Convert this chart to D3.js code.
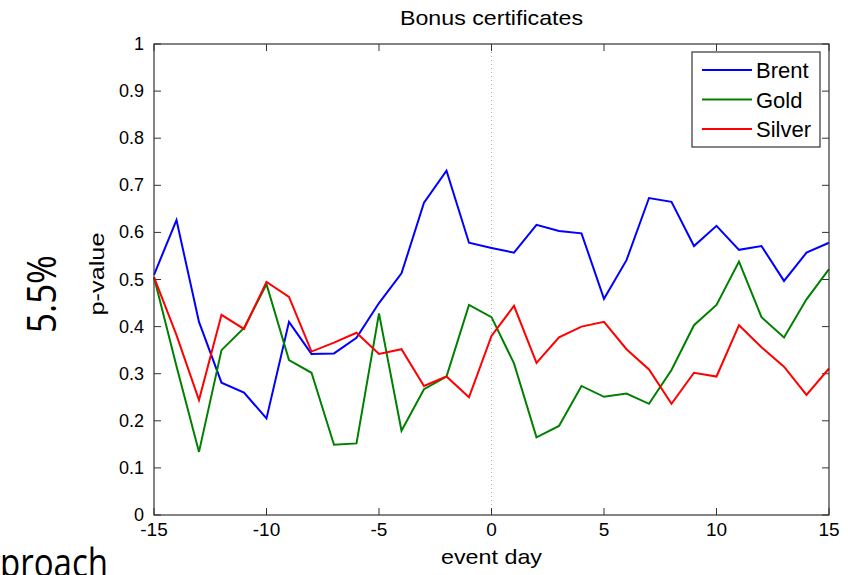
<!DOCTYPE html>
<html lang="en">
<head>
  <meta charset="UTF-8">
  <title>Bonus certificates</title>
  <script src="https://cdn.jsdelivr.net/npm/d3@7"></script>
  <style>
    body { margin: 0; background: #fff; }
    text { font-family: Arial, "Liberation Sans", sans-serif; fill: #000; }
    .slide { font-family: "Open Sans", Lato, sans-serif; }
  </style>
</head>
<body>
<svg id="chart" width="848" height="575"></svg>
<script>
  const days = d3.range(-15, 16);
  const brent = [0.51, 0.626, 0.41, 0.281, 0.26, 0.205, 0.41, 0.342, 0.343, 0.376, 0.45, 0.513,
    0.663, 0.731, 0.578, 0.567, 0.557, 0.616, 0.603, 0.598, 0.459, 0.541, 0.673, 0.665,
    0.571, 0.614, 0.563, 0.571, 0.497, 0.557, 0.578];
  const gold = [0.505, 0.316, 0.134, 0.35, 0.397, 0.49, 0.329, 0.302, 0.149, 0.152, 0.428, 0.179,
    0.267, 0.294, 0.446, 0.42, 0.322, 0.165, 0.189, 0.274, 0.251, 0.258, 0.236, 0.308,
    0.403, 0.446, 0.538, 0.42, 0.377, 0.458, 0.522];
  const silver = [0.505, 0.382, 0.244, 0.425, 0.395, 0.495, 0.463, 0.347, 0.366, 0.387, 0.342, 0.352,
    0.274, 0.294, 0.25, 0.38, 0.444, 0.323, 0.377, 0.4, 0.41, 0.352, 0.309, 0.236,
    0.302, 0.294, 0.403, 0.356, 0.315, 0.255, 0.311];
  const seriesNames = ["Brent", "Gold", "Silver"];
  const seriesColors = ["#0000ff", "#008000", "#ff0000"];
  const xTicks = [-15, -10, -5, 0, 5, 10, 15];
  const yTicks = d3.range(0, 11).map(i => i / 10);

  const svg = d3.select("#chart");
  const pLeft = 154, pRight = 829, pTop = 44, pBottom = 515;

  const x = d3.scaleLinear().domain([-15, 15]).range([pLeft, pRight]);
  const y = d3.scaleLinear().domain([0, 1]).range([pBottom, pTop]);

  // slide text around the figure
  svg.append("text").attr("class", "slide")
    .attr("transform", "translate(56,294) rotate(-90)")
    .attr("text-anchor", "middle")
    .attr("textLength", 78).attr("lengthAdjust", "spacingAndGlyphs")
    .style("font-size", "41px")
    .text("5.5%");
  svg.append("text").attr("class", "slide")
    .attr("x", 0).attr("y", 577)
    .attr("textLength", 108).attr("lengthAdjust", "spacingAndGlyphs")
    .style("font-size", "40px")
    .text("proach");

  // zero line
  svg.append("line")
    .attr("x1", x(0)).attr("x2", x(0))
    .attr("y1", pTop).attr("y2", pBottom)
    .attr("stroke", "#b0b0b0")
    .attr("stroke-dasharray", "1,3");

  const tickLen = 7;
  const axisColor = "#333";

  const g = svg.append("g");
  // bottom + top ticks
  g.selectAll(".xt").data(xTicks).join("g").attr("class", "xt").each(function (d) {
    const s = d3.select(this);
    s.append("line").attr("x1", x(d)).attr("x2", x(d))
      .attr("y1", pBottom).attr("y2", pBottom - tickLen).attr("stroke", axisColor);
    s.append("line").attr("x1", x(d)).attr("x2", x(d))
      .attr("y1", pTop).attr("y2", pTop + tickLen).attr("stroke", axisColor);
    s.append("text").attr("x", x(d)).attr("y", pBottom + 21)
      .attr("text-anchor", "middle").style("font-size", "19px").text(d);
  });
  g.selectAll(".yt").data(yTicks).join("g").attr("class", "yt").each(function (d) {
    const s = d3.select(this);
    s.append("line").attr("x1", pLeft).attr("x2", pLeft + tickLen)
      .attr("y1", y(d)).attr("y2", y(d)).attr("stroke", axisColor);
    s.append("line").attr("x1", pRight).attr("x2", pRight - tickLen)
      .attr("y1", y(d)).attr("y2", y(d)).attr("stroke", axisColor);
    s.append("text").attr("x", pLeft - 10).attr("y", y(d) + 6)
      .attr("text-anchor", "end").style("font-size", "18px").text(d3.format("")(d));
  });

  // series lines
  const line = d3.line().x((d, i) => x(days[i])).y(d => y(d));
  [brent, gold, silver].forEach((vals, i) => {
    svg.append("path")
      .attr("d", line(vals))
      .attr("fill", "none")
      .attr("stroke", seriesColors[i])
      .attr("stroke-width", 2)
      .attr("stroke-linejoin", "miter");
  });

  // box
  svg.append("rect")
    .attr("x", pLeft).attr("y", pTop)
    .attr("width", pRight - pLeft).attr("height", pBottom - pTop)
    .attr("fill", "none").attr("stroke", axisColor).attr("stroke-width", 1.2);

  // labels
  svg.append("text").attr("x", (pLeft + pRight) / 2).attr("y", 25)
    .attr("text-anchor", "middle").style("font-size", "21px")
    .attr("textLength", 183).attr("lengthAdjust", "spacingAndGlyphs")
    .text("Bonus certificates");
  svg.append("text").attr("x", (pLeft + pRight) / 2).attr("y", 564)
    .attr("text-anchor", "middle").style("font-size", "21px")
    .attr("textLength", 101).attr("lengthAdjust", "spacingAndGlyphs")
    .text("event day");
  svg.append("text")
    .attr("transform", "translate(104,274) rotate(-90)")
    .attr("text-anchor", "middle").style("font-size", "20px")
    .attr("textLength", 83).attr("lengthAdjust", "spacingAndGlyphs")
    .text("p-value");

  // legend
  const lg = svg.append("g");
  lg.append("rect").attr("x", 692).attr("y", 52).attr("width", 128).attr("height", 95)
    .attr("fill", "#fff").attr("stroke", axisColor).attr("stroke-width", 1.2);
  seriesNames.forEach((name, i) => {
    const ly = 70 + i * 29.5;
    lg.append("line").attr("x1", 702).attr("x2", 752).attr("y1", ly).attr("y2", ly)
      .attr("stroke", seriesColors[i]).attr("stroke-width", 2);
    lg.append("text").attr("x", 756).attr("y", ly + 8)
      .style("font-size", "22px").text(name);
  });
</script>
</body>
</html>
